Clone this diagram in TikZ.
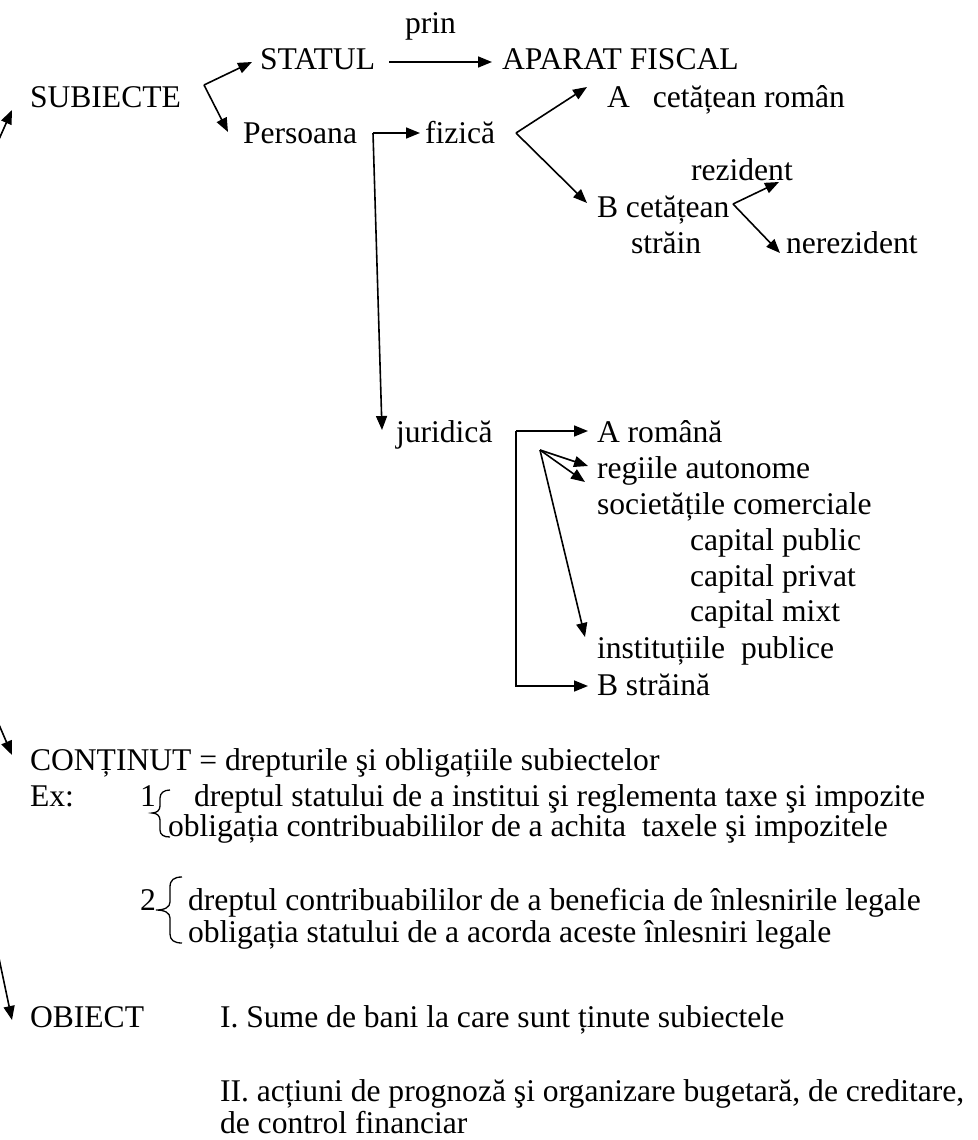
\documentclass[tikz,border=0pt]{standalone}
\usepackage{fontspec}
\setmainfont{Liberation Serif}
\usetikzlibrary{arrows.meta,calc}
\begin{document}
\begin{tikzpicture}[x=1pt,y=-1pt,
  txt/.style={anchor=base west,inner sep=0pt,outer sep=0pt,font=\fontsize{31.6}{38}\selectfont},
  arr/.style={line width=1.6pt,-{Triangle[length=14pt,width=11pt]}},
  bracestroke/.style={line width=1.3pt}]
\useasboundingbox (0,0) rectangle (977,1140);
\clip (0,0) rectangle (977,1140);

% ---- subjects ----
\node[txt] (prin) at (405,34) {prin};
\node[txt] (statul) at (260,70) {STATUL};
\node[txt] (fiscal) at (502,70) {APARAT FISCAL};
\node[txt] (subiecte) at (30,107) {SUBIECTE};
\node[txt] (romanA) at (607,107) {A\hspace{23pt}cetățean român};
\node[txt] (persoana) at (243,143) {Persoana};
\node[txt] (fizica) at (425,143) {fizică};
\node[txt] (rezident) at (691,180) {rezident};
\node[txt] (strainB) at (597,217) {B cetățean};
\node[txt] (strain2) at (631,253) {străin};
\node[txt] (nerezident) at (786,253) {nerezident};
\node[txt] (juridica) at (396,442) {juridică};
\node[txt] (aromana) at (597,442) {A română};
\node[txt] (regii) at (597,478) {regiile autonome};
\node[txt] (societati) at (597,514) {societățile comerciale};
\node[txt] (cpub) at (690,550) {capital public};
\node[txt] (cpriv) at (690,586) {capital privat};
\node[txt] (cmixt) at (690,621) {capital mixt};
\node[txt] (inst) at (597,658) {instituțiile\hspace{8pt} publice};
\node[txt] (bstraina) at (597,695) {B străină};

% ---- content ----
\node[txt] (continut) at (30,770) {CONȚINUT = drepturile şi obligațiile subiectelor};
\node[txt] (ex) at (30,806) {Ex:};
\node[txt] (n1) at (140,806) {1};
\node[txt] (d1) at (194,806) {dreptul statului de a institui şi reglementa taxe şi impozite};
\node[txt] (o1) at (168,836) {obligația contribuabililor de a achita\hspace{8pt} taxele şi impozitele};
\node[txt] (n2) at (140,910) {2};
\node[txt] (d2) at (188,910) {dreptul contribuabililor de a beneficia de înlesnirile legale};
\node[txt] (o2) at (188,942) {obligația statului de a acorda aceste înlesniri legale};

% ---- object ----
\node[txt] (obiect) at (30,1027) {OBIECT};
\node[txt] (s1) at (220,1027) {I. Sume de bani la care sunt ținute subiectele};
\node[txt] (s2) at (220,1101) {II. acțiuni de prognoză şi organizare bugetară, de creditare,};
\node[txt] (s3) at (220,1133) {de control financiar};

% ---- branch points ----
\coordinate (v1) at (204,85);
\coordinate (v2) at (373,133);
\coordinate (v3) at (516,133);
\coordinate (v4) at (733,204);
\coordinate (v5) at (516,431);
\coordinate (v6) at (540,450);
\coordinate (L1) at (-12,164);
\coordinate (L2) at (-12,699);
\coordinate (L3) at (-12,906);

% ---- connectors ----
\draw[arr] (L1) -- ($(subiecte.base west)+(-18,3)$);
\draw[arr] (L2) -- ($(continut.base west)+(-18,-15)$);
\draw[arr] (L3) -- ($(obiect.base west)+(-18,-7)$);

\draw[arr] (v1) -- ($(statul.base west)+(-8,-8)$);
\draw[arr] (v1) -- ($(persoana.base west)+(-15,-11)$);
\draw[arr] ($(statul.base east)+(14,-8)$) -- ($(fiscal.base west)+(-10,-8)$);

\draw[arr] (v2) -- ($(fizica.base west)+(-5,-10)$);
\draw[arr] (v2) -- ($(juridica.base west)+(-14,-12)$);

\draw[arr] (v3) -- ($(romanA.base west)+(-20,-20)$);
\draw[arr] (v3) -- ($(strainB.base west)+(-10,-14)$);

\draw[arr] (v4) -- ($(rezident.base west)+(88,2)$);
\draw[arr] (v4) -- ($(nerezident.base west)+(-6,0)$);

\draw[arr] (v5) -- ($(aromana.base west)+(-9,-11)$);
\draw[arr] (v5) |- ($(bstraina.base west)+(-9,-9)$);

\draw[arr] (v6) -- ($(regii.base west)+(-9,-12)$);
\draw[arr] (v6) -- ($(societati.base west)+(-12,-32)$);
\draw[arr] (v6) -- ($(inst.base west)+(-12,-21)$);

% ---- braces ----
\draw[bracestroke] (170,790) .. controls (164,790) and (160,793) .. (160,798) -- (160,806)
  .. controls (160,810) and (157,813) .. (152,813)
  .. controls (157,813) and (160,816) .. (160,820) -- (160,830)
  .. controls (160,835) and (164,837) .. (170,837);
\draw[bracestroke] (182,877) .. controls (174,877) and (170,880) .. (170,887) -- (170,902)
  .. controls (170,907) and (165,910) .. (156,910)
  .. controls (165,910) and (170,913) .. (170,918) -- (170,934)
  .. controls (170,940) and (174,943) .. (182,943);
\end{tikzpicture}
\end{document}
